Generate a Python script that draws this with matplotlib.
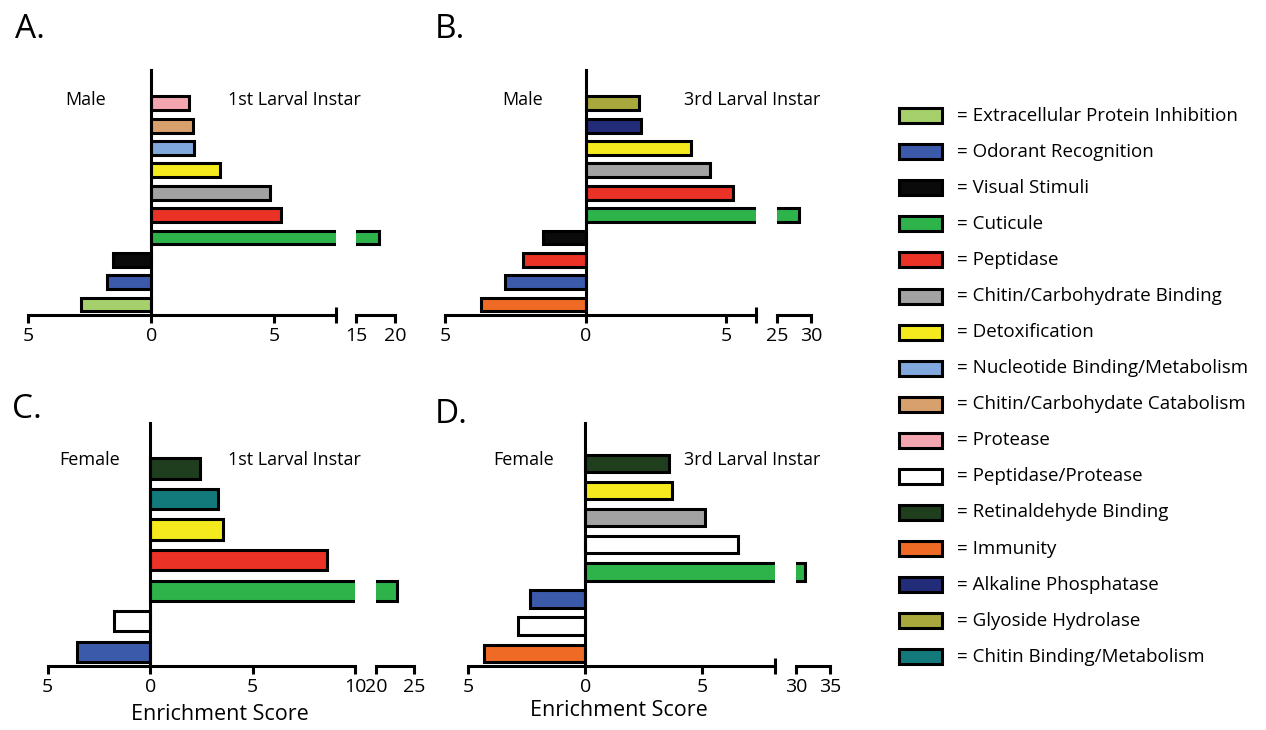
import matplotlib
matplotlib.use("Agg")
import matplotlib.pyplot as plt
from matplotlib.patches import Rectangle
import numpy as np

plt.rcParams['font.family'] = ['Open Sans', 'DejaVu Sans']

# legend categories and colours
legend_labels = ['Extracellular Protein Inhibition', 'Odorant Recognition', 'Visual Stimuli',
                 'Cuticule', 'Peptidase', 'Chitin/Carbohydrate Binding', 'Detoxification',
                 'Nucleotide Binding/Metabolism', 'Chitin/Carbohydate Catabolism', 'Protease',
                 'Peptidase/Protease', 'Retinaldehyde Binding', 'Immunity',
                 'Alkaline Phosphatase', 'Glyoside Hydrolase', 'Chitin Binding/Metabolism']
legend_colors = ['#a6d06c', '#3b5aaa', '#0a0a0a', '#2db34a', '#ea3226', '#a2a2a2', '#f4ea1e',
                 '#80a8dc', '#d8a06c', '#f4a6b0', '#ffffff', '#1f3e1e', '#ef6a24',
                 '#232c78', '#a9a83c', '#137a7c']
cmap = dict(zip(legend_labels, legend_colors))

# panel data, listed top to bottom
a_cats = ['Protease', 'Chitin/Carbohydate Catabolism', 'Nucleotide Binding/Metabolism',
          'Detoxification', 'Chitin/Carbohydrate Binding', 'Peptidase', 'Cuticule',
          'Visual Stimuli', 'Odorant Recognition', 'Extracellular Protein Inhibition']
a_vals = [1.53, 1.71, 1.75, 2.77, 4.8, 5.28, 18.0, -1.55, -1.81, -2.84]

b_cats = ['Glyoside Hydrolase', 'Alkaline Phosphatase', 'Detoxification',
          'Chitin/Carbohydrate Binding', 'Peptidase', 'Cuticule', 'Visual Stimuli',
          'Peptidase', 'Odorant Recognition', 'Immunity']
b_vals = [1.88, 1.95, 3.75, 4.43, 5.25, 28.3, -1.53, -2.24, -2.88, -3.73]

c_cats = ['Retinaldehyde Binding', 'Chitin Binding/Metabolism', 'Detoxification', 'Peptidase',
          'Cuticule', 'Peptidase/Protease', 'Odorant Recognition']
c_vals = [2.44, 3.33, 3.54, 8.62, 22.8, -1.74, -3.58]

d_cats = ['Retinaldehyde Binding', 'Detoxification', 'Chitin/Carbohydrate Binding',
          'Peptidase/Protease', 'Cuticule', 'Odorant Recognition', 'Peptidase/Protease',
          'Immunity']
d_vals = [3.59, 3.71, 5.1, 6.5, 31.3, -2.37, -2.88, -4.33]

W, H = 1266, 730
fig = plt.figure(figsize=(W / 100, H / 100), dpi=100)
LW = 2.2


def px_ax(x0, x1, ytop, ybot):
    return fig.add_axes([x0 / W, 1 - ybot / H, (x1 - x0) / W, (ybot - ytop) / H])


def ftext(x, y, s, **kw):
    fig.text(x / W, 1 - y / H, s, **kw)


def panel(cats, vals, box, lim1, lim2, ticks1, labels1, end_tick, bh):
    x0, x1, x2, x3, ytop, ybot = box
    n = len(cats)
    ypos = np.arange(n)[::-1]
    cols = [cmap[c] for c in cats]
    ax1 = px_ax(x0, x1, ytop, ybot)
    ax2 = px_ax(x2, x3, ytop, ybot)
    for ax, lim in [(ax1, lim1), (ax2, lim2)]:
        ax.barh(ypos, vals, height=bh, color=cols, edgecolor='black', linewidth=LW)
        ax.set_xlim(*lim)
        ax.set_ylim(-0.47, n - 1 + 1.49)
        ax.set_facecolor('none')
        for s in ['top', 'right']:
            ax.spines[s].set_visible(False)
        ax.spines['bottom'].set_linewidth(LW)
        ax.set_yticks([])
        ax.tick_params(axis='x', direction='out', length=6, width=LW, labelsize=14, pad=2.5)
    ax1.spines['left'].set_position(('data', 0))
    ax1.spines['left'].set_linewidth(LW)
    ax2.spines['left'].set_visible(False)
    ax1.set_xticks(ticks1)
    ax1.set_xticklabels(labels1)
    if end_tick is not None:
        ax1.set_xticks([end_tick], minor=True)
        ax1.tick_params(axis='x', which='minor', direction='inout', length=12, width=LW)
    ax2.set_xticks([lim2[0], lim2[1]])
    ax2.set_xticklabels([str(lim2[0]), str(lim2[1])])
    ax2.set_xticks([lim2[0]], minor=True)
    ax2.tick_params(axis='x', which='minor', direction='inout', length=12, width=LW)
    return ax1, ax2


panel(a_cats, a_vals, (28.3, 336, 356, 395, 70, 315), (-5, 7.5), (15, 20),
      [-5, 0, 5], ['5', '0', '5'], 7.5, 0.62)
panel(b_cats, b_vals, (445, 756, 776.7, 811, 70, 315), (-5, 6.05), (25, 30),
      [-5, 0, 5], ['5', '0', '5'], 6.05, 0.62)
panel(c_cats, c_vals, (47.7, 355, 376, 414.3, 423, 666), (-5, 10), (20, 25),
      [-5, 0, 5, 10], ['5', '0', '5', '10'], 10, 0.66)
panel(d_cats, d_vals, (468.3, 775, 796, 830, 423, 666), (-5, 8.1), (30, 35),
      [-5, 0, 5], ['5', '0', '5'], 8.1, 0.64)

# panel letters
for x, y, s in [(15, 38, 'A.'), (435, 38, 'B.'), (12, 418, 'C.'), (435, 423, 'D.')]:
    ftext(x, y, s, fontsize=24, ha='left', va='baseline')

# in-panel labels
for x, y, s in [(86, 105, 'Male'), (294.5, 105, '1st Larval Instar'),
                (523, 105, 'Male'), (751.7, 105, '3rd Larval Instar'),
                (90, 465, 'Female'), (294.5, 465, '1st Larval Instar'),
                (523.3, 465, 'Female'), (751.7, 465, '3rd Larval Instar')]:
    ftext(x, y, s, fontsize=13, ha='center', va='baseline')

ftext(220, 715, 'Enrichment Score', fontsize=15.5, ha='center', va='center')
ftext(619, 711, 'Enrichment Score', fontsize=15.5, ha='center', va='center')

# legend drawn by hand
lg = fig.add_axes([0, 0, 1, 1])
lg.set_xlim(0, W)
lg.set_ylim(H, 0)
lg.axis('off')
for i, (lab, col) in enumerate(zip(legend_labels, legend_colors)):
    yc = 115.7 + 36.07 * i
    lg.add_patch(Rectangle((898.5, yc - 7.5), 43, 15, facecolor=col, edgecolor='black',
                           linewidth=LW))
    lg.text(957, yc, '= ' + lab, fontsize=13.5, ha='left', va='center')

fig.savefig('out.png', dpi=100)
